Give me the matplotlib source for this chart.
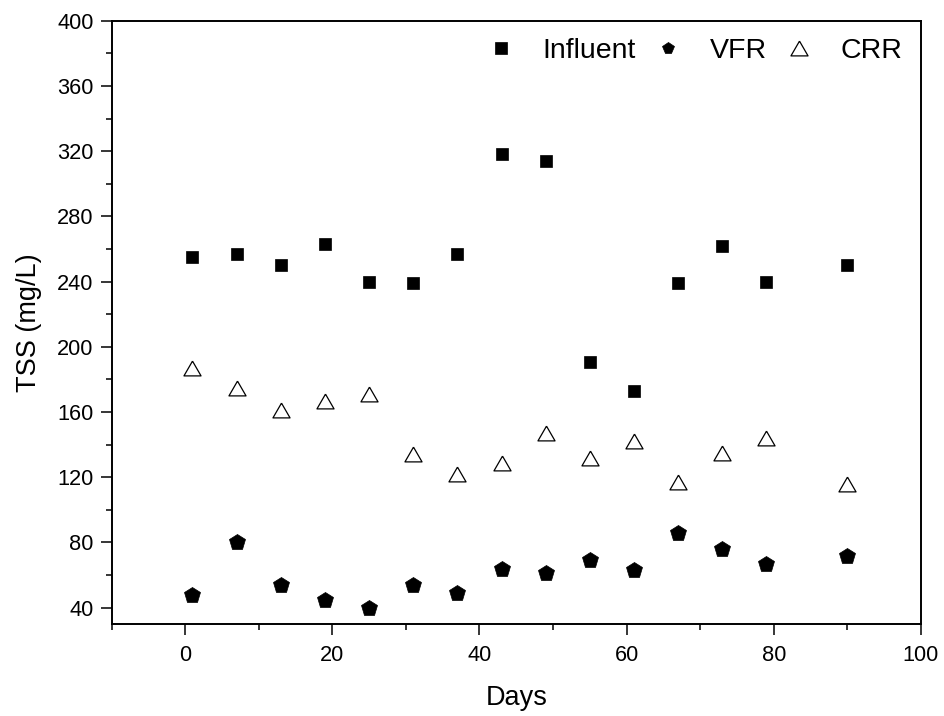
import matplotlib
matplotlib.use("Agg")
import matplotlib.pyplot as plt
from matplotlib.ticker import MultipleLocator

plt.rcParams['font.family'] = ['Liberation Sans', 'DejaVu Sans']

days = [1, 7, 13, 19, 25, 31, 37, 43, 49, 55, 61, 67, 73, 79, 90]
influent = [255, 257, 250, 263, 240, 239, 257, 318, 314, 191, 173, 239, 262, 240, 250]
vfr = [48, 80, 54, 45, 40, 54, 49, 64, 61, 69, 63, 86, 76, 67, 72]
crr = [187, 175, 161, 167, 171, 134, 122, 129, 147, 132, 142, 117, 135, 144, 116]

tri = [(0, 0.866), (-1, -0.866), (1, -0.866), (0, 0.866)]

fig = plt.figure(figsize=(9.45, 7.16), dpi=100)
ax = fig.add_axes([0.118, 0.1285, 0.8566, 0.8425])

ax.plot(days, influent, ls='none', marker='s', ms=9.0, mfc='black', mec='black', mew=0.5, label='Influent')
ax.plot(days, vfr, ls='none', marker='p', ms=11.8, mfc='black', mec='black', mew=0.5, label='VFR')
ax.plot(days, crr, ls='none', marker=tri, ms=12.3, mfc='white', mec='black', mew=0.9, label='CRR')

ax.set_xlim(-10, 100)
ax.set_ylim(30, 400)
ax.xaxis.set_major_locator(MultipleLocator(20))
ax.xaxis.set_minor_locator(MultipleLocator(10))
ax.yaxis.set_major_locator(MultipleLocator(40))
ax.yaxis.set_minor_locator(MultipleLocator(20))
ax.set_yticks(range(40, 401, 40))
ax.tick_params(which='major', direction='out', length=8, width=1.1, labelsize=15.7)
ax.tick_params(axis='x', which='major', pad=7)
ax.tick_params(axis='y', which='major', pad=5)
ax.tick_params(which='minor', direction='out', length=4, width=1.1)
ax.tick_params(top=False, right=False)
for s in ax.spines.values():
    s.set_linewidth(1.4)

ax.set_xlabel('Days', fontsize=19.5, labelpad=14)
ax.set_ylabel('TSS (mg/L)', fontsize=19.5, labelpad=11)

leg = ax.legend(loc='upper right', ncol=3, frameon=False, fontsize=20.5,
                handlelength=1.6, handletextpad=0.66, columnspacing=0.33,
                borderaxespad=0.2, bbox_to_anchor=(0.998, 1.0), markerscale=1.0)
leg.legend_handles[1].set_markersize(8.5)

fig.savefig('out.png', dpi=100)
